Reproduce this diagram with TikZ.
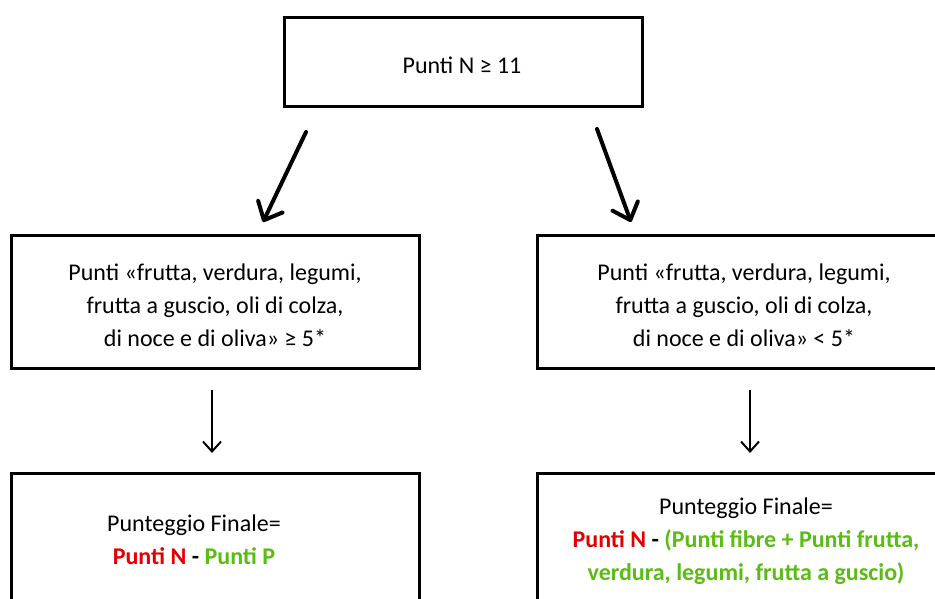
\documentclass[tikz,border=0pt]{standalone}
\usepackage{fontspec}
\setmainfont{Carlito}
\usetikzlibrary{arrows.meta}
\definecolor{redN}{RGB}{224,0,0}
\definecolor{greenP}{RGB}{90,188,20}
\tikzset{
  boxshape/.style={draw=black, line width=3pt, rectangle, inner sep=0pt},
  boxtext/.style={align=center, font=\fontsize{24}{33}\selectfont, inner sep=0pt},
  bigarrow/.style={line width=4pt, line cap=round, -{Straight Barb[length=15pt, width=27pt, line cap=round, line join=round]}},
  thinarrow/.style={line width=2pt, -{Straight Barb[length=10pt, width=18pt, line join=miter]}}
}
\begin{document}
\begin{tikzpicture}[x=1pt,y=-1pt]
\useasboundingbox (0,0) rectangle (935,599);
\clip (0,0) rectangle (935,599);
\fill[white] (0,0) rectangle (935,599);
% boxes
\node[boxshape, minimum width=358pt, minimum height=89pt] (top) at (463.5,62.5) {};
\node[boxshape, minimum width=408pt, minimum height=133pt] (midL) at (215,301.5) {};
\node[boxshape, minimum width=408pt, minimum height=133pt] (midR) at (741,301.5) {};
\node[boxshape, minimum width=408pt, minimum height=140pt] (botL) at (215,543) {};
\node[boxshape, minimum width=408pt, minimum height=140pt] (botR) at (741,543) {};
% texts
\node[boxtext] (topT) at (462,65) {Punti N ≥ 11};
\node[boxtext] (midLT) at (215,305) {Punti «frutta, verdura, legumi,\\frutta a guscio, oli di colza,\\di noce e di oliva» ≥ 5*};
\node[boxtext] (midRT) at (744,305) {Punti «frutta, verdura, legumi,\\frutta a guscio, oli di colza,\\di noce e di oliva» < 5*};
\node[boxtext] (botLT) at (194,540) {Punteggio Finale=\\\textcolor{redN}{\textbf{Punti N}} \textbf{-} \textcolor{greenP}{\textbf{Punti P}}};
\node[boxtext] (botRT) at (746,541) {Punteggio Finale=\\\textcolor{redN}{\textbf{Punti N}} \textbf{-} \textcolor{greenP}{\textbf{(Punti fibre + Punti frutta,}}\\\textcolor{greenP}{\textbf{verdura, legumi, frutta a guscio)}}};
% arrow endpoints
\coordinate (aLs) at (306,132);
\coordinate (aLe) at (263,222);
\coordinate (aRs) at (597,129);
\coordinate (aRe) at (631,222);
\coordinate (dLs) at (212,390);
\coordinate (dLe) at (212,453);
\coordinate (dRs) at (750,390);
\coordinate (dRe) at (750,453);
\draw[bigarrow] (aLs) -- (aLe);
\draw[bigarrow] (aRs) -- (aRe);
\draw[thinarrow] (dLs) -- (dLe);
\draw[thinarrow] (dRs) -- (dRe);
\end{tikzpicture}
\end{document}
